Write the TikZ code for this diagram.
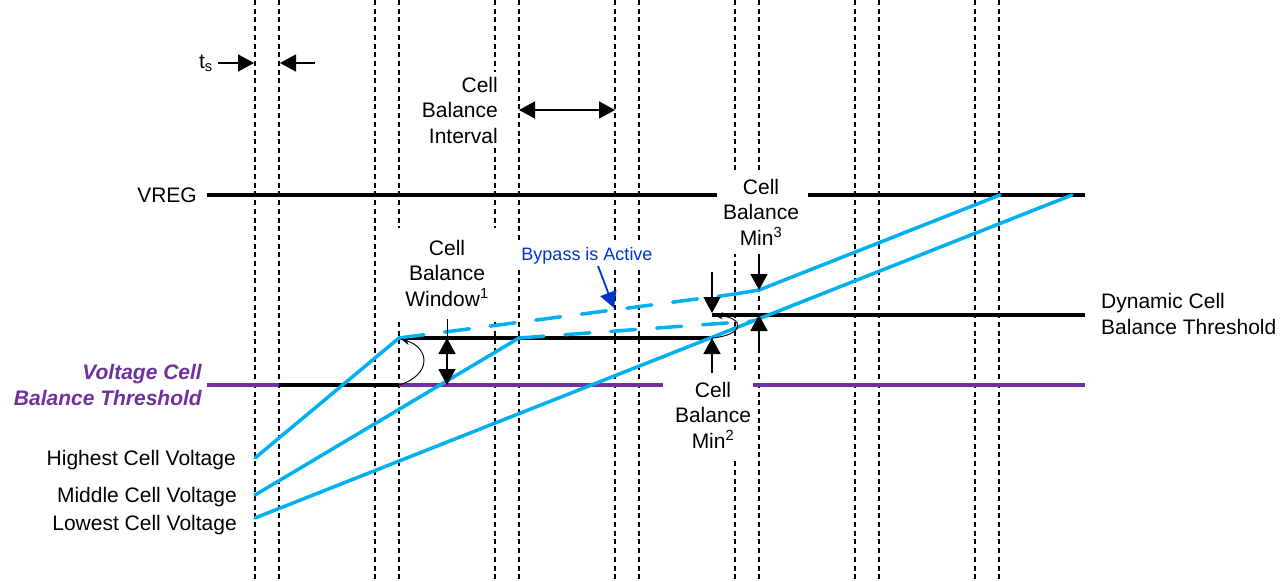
\documentclass[tikz,border=0pt]{standalone}
\usepackage{fontspec}
\setmainfont{Liberation Sans}
\usetikzlibrary{arrows.meta}
\definecolor{cyanl}{HTML}{00B0F0}
\definecolor{purp}{HTML}{7030A0}
\definecolor{bluet}{HTML}{0033CC}
\begin{document}
\begin{tikzpicture}[x=1pt,y=-1pt,
  vdash/.style={line width=2.8pt, dash pattern=on 5pt off 3.7pt},
  blk/.style={line width=3.2pt},
  cy/.style={cyanl, line width=3.5pt, line cap=round},
  cydash/.style={cy, dash pattern=on 25pt off 21pt},
  pu/.style={purp, line width=3.2pt},
  lbl/.style={font=\fontsize{21}{25.5}\selectfont, inner sep=0pt},
  mask/.style={lbl, fill=white, align=center},
  arr/.style={line width=1.8pt, -{Triangle[length=16pt,width=17pt]}},
  darr/.style={line width=1.8pt, {Triangle[length=16pt,width=17pt]}-{Triangle[length=16pt,width=17pt]}},
  thinarr/.style={line width=0.9pt, -{Stealth[length=9pt,width=7pt]}}
]
\useasboundingbox (0,0) rectangle (1287,581);

% vertical dotted time marks
\foreach \x in {255,279,375,399,495,519,615,639,735,759,855,879,975,999}
  \draw[vdash] (\x,0) -- (\x,581);

% horizontal levels
\draw[blk] (207,195) -- (717,195);
\draw[blk] (808,195) -- (1085,195);
\draw[pu] (207,385) -- (279,385);
\draw[pu] (399,385) -- (663,385);
\draw[pu] (753,385) -- (1085,385);
\draw[blk] (279,385) -- (399,385);
\draw[blk] (399,338) -- (712,338);
\draw[blk] (712,315) -- (1085,315);

% cell voltage traces
\coordinate (h0) at (255,458);
\coordinate (h1) at (399,338);
\coordinate (h2) at (735,294);
\coordinate (h3) at (759,290);
\coordinate (h4) at (1000,195);
\coordinate (m0) at (255,495);
\coordinate (m1) at (519,338);
\coordinate (m2) at (754,321);
\coordinate (l0) at (255,518);
\coordinate (l1) at (1072,195);
\draw[cy] (h0) -- (h1);
\draw[cydash] (h1) -- (h2);
\draw[cy] (h2) -- (h3) -- (h4);
\draw[cy] (m0) -- (m1);
\draw[cydash] (m1) -- (m2);
\draw[cy] (l0) -- (l1);

% labels
\node[lbl, anchor=base east] (vreg) at (197,202.5) {VREG};
\node[lbl, anchor=east, text=purp, font=\fontsize{21}{25.5}\selectfont\bfseries\itshape, align=right] (vcbt) at (202,385) {Voltage Cell\\Balance Threshold};
\node[lbl, anchor=base east] (hcv) at (236,465) {Highest Cell Voltage};
\node[lbl, anchor=base east] (mcv) at (237,502) {Middle Cell Voltage};
\node[lbl, anchor=base east] (lcv) at (237,530) {Lowest Cell Voltage};
\node[lbl, anchor=west, align=left] (dcbt) at (1101,314) {Dynamic Cell\\Balance Threshold};
\node[lbl, anchor=base east] (ts) at (213,68) {t\textsubscript{s}};

\node[mask, anchor=east, align=right, inner xsep=3pt, inner ysep=5pt] (cbi) at (501,110) {Cell\\Balance\\Interval};
\node[mask, minimum width=102pt, inner ysep=12pt] (cbw) at (447,273) {Cell\\Balance\\Window\textsuperscript{1}};
\node[mask, inner xsep=6pt, inner ysep=9pt] (cbm3) at (761,212) {Cell\\Balance\\Min\textsuperscript{3}};
\node[mask, inner xsep=2pt, inner ysep=9pt] (cbm2) at (713,415) {Cell\\Balance\\Min\textsuperscript{2}};
\node[lbl, fill=white, inner xsep=4pt, inner ysep=6pt, anchor=base, text=bluet, font=\fontsize{18}{22}\selectfont] (bya) at (587,260) {Bypass is Active};

% arrows
\coordinate (tsa) at (218,63);
\coordinate (tsb) at (254,63);
\coordinate (tsc) at (315,63);
\coordinate (tsd) at (280,63);
\draw[arr] (tsa) -- (tsb);
\draw[arr] (tsc) -- (tsd);

\coordinate (ia) at (519,110);
\coordinate (ib) at (615,110);
\draw[darr] (ia) -- (ib);

\coordinate (wa) at (447,319);
\coordinate (wb) at (447,338);
\coordinate (wc) at (447,385);
\draw[line width=1pt] (wa) -- (wb);
\draw[darr] (wb) -- (wc);

\coordinate (m3a) at (759,255);
\coordinate (m3b) at (759,290);
\coordinate (m3c) at (759,352);
\coordinate (m3d) at (759,315);
\draw[arr] (m3a) -- (m3b);
\draw[arr] (m3c) -- (m3d);

\coordinate (m2a) at (712,272);
\coordinate (m2b) at (712,313);
\coordinate (m2c) at (712,373);
\coordinate (m2d) at (712,338);
\draw[arr] (m2a) -- (m2b);
\draw[arr] (m2c) -- (m2d);

\coordinate (ba) at (598,266);
\coordinate (bb) at (614,308);
\draw[arr, bluet] (ba) -- (bb);

\coordinate (c1a) at (399,385);
\coordinate (c1b) at (401,339);
\draw[thinarr] (c1a) .. controls (432,375) and (430,348) .. (c1b);
\coordinate (c2a) at (712,338);
\coordinate (c2b) at (714,315);
\draw[thinarr] (c2a) .. controls (745,335) and (745,318) .. (c2b);
\end{tikzpicture}
\end{document}
